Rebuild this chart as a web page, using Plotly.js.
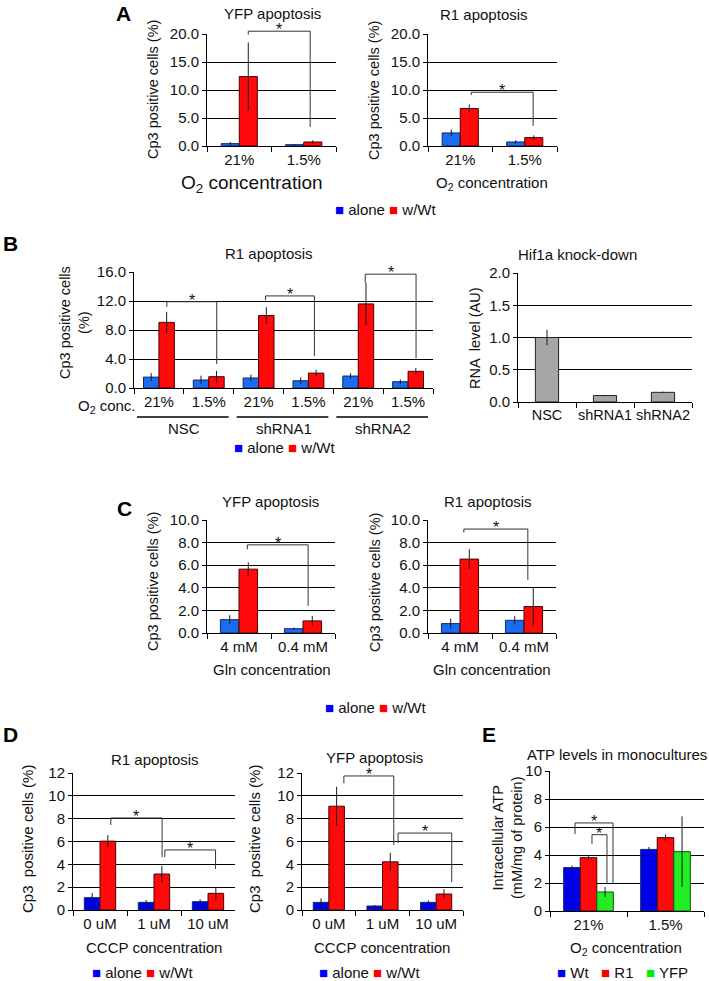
<!DOCTYPE html>
<html><head><meta charset="utf-8">
<script src="https://cdn.plot.ly/plotly-3.0.1.min.js"></script>
<style>html,body{margin:0;padding:0;background:#fff}#chart{width:709px;height:981px}</style>
</head><body><div id="chart"></div>
<script>
// ================= DATA =================
// Panel A : O2 concentration
const aCats = ['21%', '1.5%'];
const aYfpAlone = [0.42, 0.24];
const aYfpAloneErr = [0.3, 0.1];
const aYfpWt = [12.4, 0.72];
const aYfpWtErr = [6.1, 0.3];
const aR1Alone = [2.33, 0.72];
const aR1AloneErr = [0.6, 0.3];
const aR1Wt = [6.7, 1.5];
const aR1WtErr = [0.7, 0.4];

// Panel B left : R1 apoptosis with knock-down
const bCats = ['NSC 21%', 'NSC 1.5%', 'shRNA1 21%', 'shRNA1 1.5%', 'shRNA2 21%', 'shRNA2 1.5%'];
const bTickText = ['21%', '1.5%', '21%', '1.5%', '21%', '1.5%'];
const bGroups = ['NSC', 'shRNA1', 'shRNA2'];
const bAlone = [1.5, 1.1, 1.38, 1.0, 1.65, 0.87];
const bAloneErr = [0.55, 0.6, 0.45, 0.45, 0.4, 0.3];
const bWt = [9.05, 1.56, 10.0, 2.05, 11.6, 2.3];
const bWtErr = [1.45, 0.8, 1.15, 0.45, 2.9, 0.45];

// Panel B right : Hif1a knock-down
const hifCats = ['NSC', 'shRNA1', 'shRNA2'];
const hifVals = [1.0, 0.1, 0.15];
const hifErr = [0.12, 0.01, 0.01];

// Panel C : Gln concentration
const cCats = ['4 mM', '0.4 mM'];
const cYfpAlone = [1.18, 0.38];
const cYfpAloneErr = [0.4, 0.1];
const cYfpWt = [5.65, 1.07];
const cYfpWtErr = [0.6, 0.45];
const cR1Alone = [0.83, 1.12];
const cR1AloneErr = [0.45, 0.38];
const cR1Wt = [6.54, 2.34];
const cR1WtErr = [0.88, 1.66];

// Panel D : CCCP concentration
const dCats = ['0 uM', '1 uM', '10 uM'];
const dR1Alone = [1.08, 0.67, 0.73];
const dR1AloneErr = [0.4, 0.2, 0.2];
const dR1Wt = [6.03, 3.15, 1.46];
const dR1WtErr = [0.52, 0.72, 0.57];
const dYfpAlone = [0.67, 0.35, 0.67];
const dYfpAloneErr = [0.35, 0.1, 0.17];
const dYfpWt = [9.09, 4.22, 1.4];
const dYfpWtErr = [1.7, 0.8, 0.43];

// Panel E : ATP levels
const eCats = ['21%', '1.5%'];
const eWt = [3.1, 4.4];
const eWtErr = [0.15, 0.17];
const eR1 = [3.81, 5.24];
const eR1Err = [0.2, 0.22];
const eYfp = [1.36, 4.24];
const eYfpErr = [0.35, 2.52];

// significance brackets: [x left, x right, y top, y left end, y right end] (category index / value units)
const brA1 = [[0.14, 1.1, 20.5, 19.9, 3.4]];
const brA2 = [[0.17, 1.13, 9.6, 9.1, 3.6]];
const brB = [[0.16, 1.16, 11.9, 11.2, 3.3], [2.14, 3.12, 12.7, 12.1, 4.4], [4.14, 5.16, 15.7, 14.5, 4.1]];
const brC1 = [[0.13, 1.08, 7.8, 7.4, 2.4]];
const brC2 = [[0.06, 1.06, 9.2, 8.9, 4.7]];
const brD1 = [[0.2, 1.15, 8.06, 7.45, 4.64], [1.2, 2.14, 5.26, 4.64, 3.6]];
const brD2 = [[0.28, 1.21, 11.74, 11.1, 5.7], [1.29, 2.29, 6.74, 5.87, 2.45]];
const brE = [[-0.175, 0.318, 6.29, 5.5, 1.95], [0.045, 0.24, 5.45, 4.8, 1.95]];

// ================= STYLE / LAYOUT =================
const W = 709, H = 981;
const px = v => v / W;
const py = v => 1 - v / H;
const FONT = 'Liberation Sans, Arial, Helvetica, sans-serif';
const TXT = '#111';
const BLUE = '#1a6cf0', BLUE_D = '#0000e6', RED = '#ff0a0a', GREEN = '#22ee22', GRAY = '#a6a6a6';
const BLUE_L = '#0b2a66', RED_L = '#4a0000', DARK_L = '#222';

// subplot boxes in pixels: [left, right, top, bottom]
const boxes = {
  1: [207, 336, 34, 146],
  2: [428, 557, 34, 146],
  3: [134, 433, 272, 388],
  4: [518, 692, 273, 402],
  5: [207, 335, 520, 633],
  6: [428, 556, 520, 633],
  7: [73, 235, 773, 910],
  8: [302, 463, 773, 910],
  9: [550, 704, 771, 911]
};
const sfx = n => (n === 1 ? '' : String(n));

const panels = [
  {n: 1, cats: aCats, ymax: 20, dtick: 5, fmt: '.1f'},
  {n: 2, cats: aCats, ymax: 20, dtick: 5, fmt: '.1f'},
  {n: 3, cats: bCats, tickText: bTickText, ymax: 16, dtick: 4, fmt: '.1f'},
  {n: 4, cats: hifCats, ymax: 2, dtick: 0.5, fmt: '.1f', xfont: 14.5},
  {n: 5, cats: cCats, ymax: 10, dtick: 2, fmt: '.1f'},
  {n: 6, cats: cCats, ymax: 10, dtick: 2, fmt: '.1f'},
  {n: 7, cats: dCats, ymax: 12, dtick: 2, fmt: 'd'},
  {n: 8, cats: dCats, ymax: 12, dtick: 2, fmt: 'd'},
  {n: 9, cats: eCats, ymax: 10, dtick: 2, fmt: 'd'}
];

const layout = {
  width: W, height: H, autosize: false,
  margin: {l: 0, r: 0, t: 0, b: 0},
  paper_bgcolor: '#fff', plot_bgcolor: 'rgba(0,0,0,0)',
  barmode: 'overlay', showlegend: false,
  font: {family: FONT, size: 15, color: TXT},
  shapes: [], annotations: []
};

panels.forEach(p => {
  const b = boxes[p.n], s = sfx(p.n);
  const xa = {
    domain: [px(b[0]), px(b[1])], anchor: 'y' + s, type: 'category',
    categoryorder: 'array', categoryarray: p.cats, range: [-0.5, p.cats.length - 0.5],
    showline: true, linecolor: '#000', linewidth: 1, ticks: 'outside', ticklen: 5,
    tickcolor: '#000', tickson: 'boundaries', showgrid: false, zeroline: false, tickangle: 0,
    tickfont: {size: p.xfont || 15, color: TXT}, fixedrange: true
  };
  if (p.tickText) Object.assign(xa, {tickmode: 'array', tickvals: p.cats, ticktext: p.tickText});
  layout['xaxis' + s] = xa;
  layout['yaxis' + s] = {
    domain: [py(b[3]), py(b[2])], anchor: 'x' + s, range: [0, p.ymax],
    tickmode: 'linear', tick0: 0, dtick: p.dtick, tickformat: p.fmt,
    showline: true, linecolor: '#000', linewidth: 1, ticks: 'outside', ticklen: 4, tickcolor: '#000',
    showgrid: true, gridcolor: '#000', gridwidth: 1, zeroline: false,
    tickfont: {size: 15, color: TXT}, fixedrange: true
  };
});

const traces = [];
function addBar(n, cats, y, err, color, line, offset, width) {
  const s = sfx(n);
  traces.push({
    type: 'bar', x: cats, y: y, xaxis: 'x' + s, yaxis: 'y' + s,
    offset: offset, width: width,
    marker: {color: color, line: {color: line, width: 1}},
    error_y: {type: 'data', array: err, visible: true, color: '#1a1a1a', thickness: 1, width: 0},
    showlegend: false, hoverinfo: 'skip'
  });
}
// A
addBar(1, aCats, aYfpAlone, aYfpAloneErr, BLUE, BLUE_L, -0.28, 0.28);
addBar(1, aCats, aYfpWt, aYfpWtErr, RED, RED_L, 0, 0.28);
addBar(2, aCats, aR1Alone, aR1AloneErr, BLUE, BLUE_L, -0.28, 0.28);
addBar(2, aCats, aR1Wt, aR1WtErr, RED, RED_L, 0, 0.28);
// B
addBar(3, bCats, bAlone, bAloneErr, BLUE, BLUE_L, -0.31, 0.31);
addBar(3, bCats, bWt, bWtErr, RED, RED_L, 0, 0.31);
addBar(4, hifCats, hifVals, hifErr, GRAY, DARK_L, -0.2, 0.4);
// C
addBar(5, cCats, cYfpAlone, cYfpAloneErr, BLUE, BLUE_L, -0.29, 0.29);
addBar(5, cCats, cYfpWt, cYfpWtErr, RED, RED_L, 0, 0.29);
addBar(6, cCats, cR1Alone, cR1AloneErr, BLUE, BLUE_L, -0.29, 0.29);
addBar(6, cCats, cR1Wt, cR1WtErr, RED, RED_L, 0, 0.29);
// D
addBar(7, dCats, dR1Alone, dR1AloneErr, BLUE_D, BLUE_L, -0.29, 0.29);
addBar(7, dCats, dR1Wt, dR1WtErr, RED, RED_L, 0, 0.29);
addBar(8, dCats, dYfpAlone, dYfpAloneErr, BLUE_D, BLUE_L, -0.29, 0.29);
addBar(8, dCats, dYfpWt, dYfpWtErr, RED, RED_L, 0, 0.29);
// E
addBar(9, eCats, eWt, eWtErr, BLUE_D, BLUE_L, -0.3225, 0.215);
addBar(9, eCats, eR1, eR1Err, RED, RED_L, -0.1075, 0.215);
addBar(9, eCats, eYfp, eYfpErr, GREEN, '#0a5a0a', 0.1075, 0.215);

// brackets
function addBrackets(n, list, ymax) {
  const s = sfx(n), xref = 'x' + s, yref = 'y' + s + ' domain';
  const ln = {color: '#333', width: 1};
  list.forEach(br => {
    const [xl, xr, top, le, re] = br;
    layout.shapes.push({type: 'line', xref, yref, x0: xl, x1: xl, y0: le / ymax, y1: top / ymax, line: ln});
    layout.shapes.push({type: 'line', xref, yref, x0: xl, x1: xr, y0: top / ymax, y1: top / ymax, line: ln});
    layout.shapes.push({type: 'line', xref, yref, x0: xr, x1: xr, y0: top / ymax, y1: re / ymax, line: ln});
    layout.annotations.push({xref, yref, x: (xl + xr) / 2, y: top / ymax, text: '*', showarrow: false,
      xanchor: 'center', yanchor: 'bottom', yshift: -9, font: {size: 16, color: TXT}});
  });
}
addBrackets(1, brA1, 20);
addBrackets(2, brA2, 20);
addBrackets(3, brB, 16);
addBrackets(5, brC1, 10);
addBrackets(6, brC2, 10);
addBrackets(7, brD1, 12);
addBrackets(8, brD2, 12);
addBrackets(9, brE, 10);

// text helper (paper pixels)
function txt(text, x, y, opts) {
  layout.annotations.push(Object.assign({xref: 'paper', yref: 'paper', x: px(x), y: py(y), text: text,
    showarrow: false, xanchor: 'center', yanchor: 'middle', font: {size: 15, color: TXT}}, opts || {}));
}
// panel letters
[['A', 123, 13], ['B', 10, 243], ['C', 124, 508], ['D', 10, 734], ['E', 489, 734]].forEach(l =>
  txt('<b>' + l[0] + '</b>', l[1], l[2], {font: {size: 21, color: '#000'}}));
// titles
txt('YFP apoptosis', 272, 13);
txt('R1 apoptosis', 484, 15);
txt('R1 apoptosis', 269, 253);
txt('Hif1a knock-down', 577, 254);
txt('YFP apoptosis', 270, 501);
txt('R1 apoptosis', 488, 501);
txt('R1 apoptosis', 155, 759);
txt('YFP apoptosis', 375, 757);
txt('ATP levels in monocultures', 617, 754);
// y titles
const yt = {textangle: -90, font: {size: 14.5, color: TXT}};
txt('Cp3 positive cells (%)', 153, 90, yt);
txt('Cp3 positive cells (%)', 374, 90, yt);
txt('Cp3 positive cells<br>(%)', 74, 323, yt);
txt('RNA  level (AU)', 475, 338, yt);
txt('Cp3 positive cells (%)', 153, 582, yt);
txt('Cp3 positive cells (%)', 375, 582, yt);
txt('Cp3  positive cells (%)', 27, 839, {textangle: -90, font: {size: 15, color: TXT}});
txt('Cp3  positive cells (%)', 254, 839, {textangle: -90, font: {size: 15, color: TXT}});
txt('Intracellular ATP<br>(mM/mg of protein)', 507, 838, yt);
// x titles
txt('O<sub>2</sub> concentration', 252, 184, {font: {size: 19, color: TXT}});
txt('O<sub>2</sub> concentration', 492, 184);
txt('Gln concentration', 272, 669);
txt('Gln concentration', 492, 669);
txt('CCCP concentration', 154, 947);
txt('CCCP concentration', 382, 947);
txt('O<sub>2</sub> concentration', 626, 948);
// B left extra labels
txt('O<sub>2</sub> conc.', 107, 406);
bGroups.forEach((g, i) => {
  layout.shapes.push({type: 'line', xref: 'x3', yref: 'paper', x0: 2 * i - 0.44, x1: 2 * i + 1.4,
    y0: py(417), y1: py(417), line: {color: '#000', width: 1.5}});
  layout.annotations.push({xref: 'x3', yref: 'paper', x: 2 * i + 0.5, y: py(428), text: g,
    showarrow: false, xanchor: 'center', yanchor: 'middle', font: {size: 15, color: TXT}});
});
// legends
const sq = c => '<span style="color:' + c + '">■</span>';
const lg = sq('#0000ff') + ' alone ' + sq('#ff0000') + ' w/Wt';
txt(lg, 385, 210);
txt(lg, 284, 447);
txt(lg, 376, 707);
txt(lg, 142, 972);
txt(lg, 369, 972);
txt(sq('#0000ff') + ' Wt   ' + sq('#ff0000') + ' R1   ' + sq('#00ee00') + ' YFP', 622, 972);

Plotly.newPlot('chart', traces, layout, {staticPlot: true, displayModeBar: false});
</script>
</body></html>
